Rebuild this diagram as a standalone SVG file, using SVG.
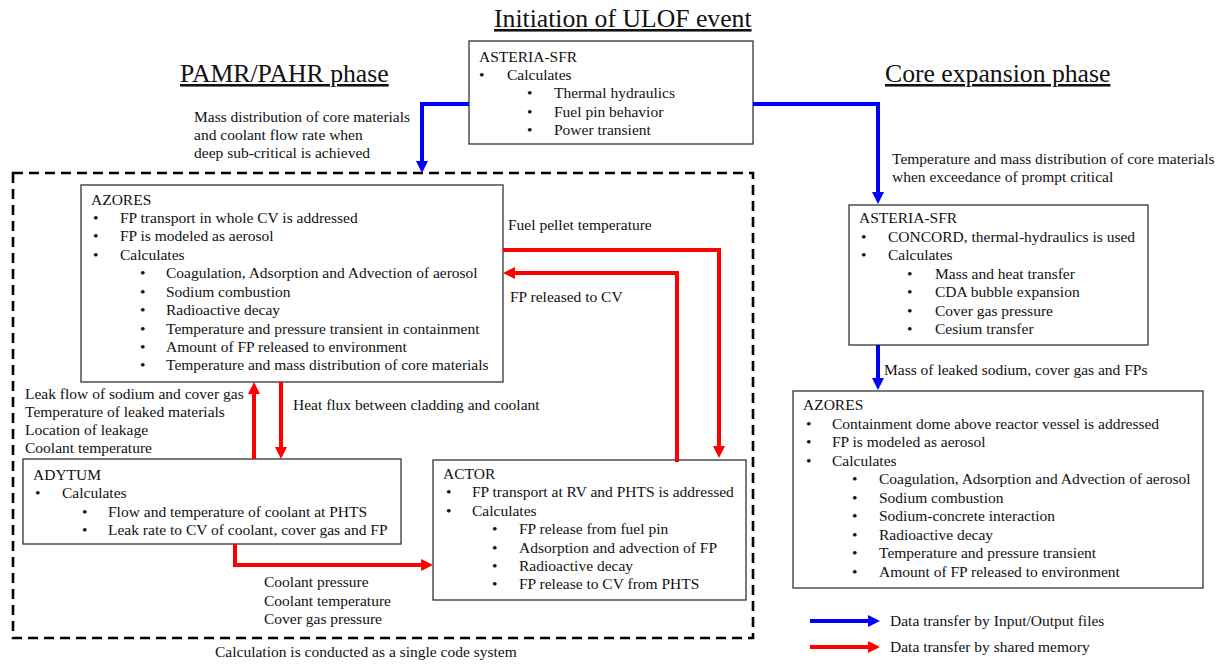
<svg xmlns="http://www.w3.org/2000/svg" width="1223" height="664" viewBox="0 0 1223 664">
<style>
text{font-family:"Liberation Serif","Times New Roman",serif;font-size:15.5px;fill:#111}
.title{font-size:25.7px;text-decoration:underline}
.box{fill:#fff;stroke:#333;stroke-width:1.3}
.red{fill:none;stroke:#ff0000;stroke-width:4}
.blue{fill:none;stroke:#0000ff;stroke-width:4}
</style>
<defs>
<marker id="ar" viewBox="0 0 10 10" refX="3.3" refY="5" markerWidth="3" markerHeight="3" orient="auto"><path d="M0,0L10,5L0,10z" fill="#ff0000"/></marker>
<marker id="ab" viewBox="0 0 10 10" refX="3.3" refY="5" markerWidth="3" markerHeight="3" orient="auto"><path d="M0,0L10,5L0,10z" fill="#0000ff"/></marker>
</defs>
<rect width="1223" height="664" fill="#fff"/>
<text class="title" x="494" y="27">Initiation of ULOF event</text>
<text class="title" x="180" y="82">PAMR/PAHR phase</text>
<text class="title" x="885" y="82">Core expansion phase</text>
<g id="container">
<rect x="13" y="173" width="740" height="465" fill="none" stroke="#000" stroke-width="2.6" stroke-dasharray="10 6"/>
<text x="215" y="657">Calculation is conducted as a single code system</text>
</g>
<g id="asteria-top">
<rect class="box" x="469" y="41" width="284" height="103"/>
<text x="479" y="62">ASTERIA-SFR</text>
<text x="479" y="80">•</text><text x="507" y="80">Calculates</text>
<text x="527" y="98">•</text><text x="554" y="98">Thermal hydraulics</text>
<text x="527" y="117">•</text><text x="554" y="117">Fuel pin behavior</text>
<text x="527" y="135">•</text><text x="554" y="135">Power transient</text>
</g>
<g id="azores-left">
<rect class="box" x="81" y="185" width="422" height="197"/>
<text x="91" y="205">AZORES</text>
<text x="93" y="223">•</text><text x="120" y="223">FP transport in whole CV is addressed</text>
<text x="93" y="241">•</text><text x="120" y="241">FP is modeled as aerosol</text>
<text x="93" y="260">•</text><text x="120" y="260">Calculates</text>
<text x="140" y="278">•</text><text x="166" y="278">Coagulation, Adsorption and Advection of aerosol</text>
<text x="140" y="297">•</text><text x="166" y="297">Sodium combustion</text>
<text x="140" y="315">•</text><text x="166" y="315">Radioactive decay</text>
<text x="140" y="334">•</text><text x="166" y="334">Temperature and pressure transient in containment</text>
<text x="140" y="352">•</text><text x="166" y="352">Amount of FP released to environment</text>
<text x="140" y="370">•</text><text x="166" y="370">Temperature and mass distribution of core materials</text>
</g>
<g id="adytum">
<rect class="box" x="23" y="459" width="378" height="85"/>
<text x="33" y="480">ADYTUM</text>
<text x="35" y="498">•</text><text x="62" y="498">Calculates</text>
<text x="82" y="517">•</text><text x="108" y="517">Flow and temperature of coolant at PHTS</text>
<text x="82" y="535">•</text><text x="108" y="535">Leak rate to CV of coolant, cover gas and FP</text>
</g>
<g id="actor">
<rect class="box" x="433" y="460" width="313" height="140"/>
<text x="443" y="479">ACTOR</text>
<text x="446" y="497">•</text><text x="472" y="497">FP transport at RV and PHTS is addressed</text>
<text x="446" y="516">•</text><text x="472" y="516">Calculates</text>
<text x="492" y="534">•</text><text x="519" y="534">FP release from fuel pin</text>
<text x="492" y="553">•</text><text x="519" y="553">Adsorption and advection of FP</text>
<text x="492" y="571">•</text><text x="519" y="571">Radioactive decay</text>
<text x="492" y="589">•</text><text x="519" y="589">FP release to CV from PHTS</text>
</g>
<g id="asteria-right">
<rect class="box" x="849" y="205" width="299" height="140"/>
<text x="859" y="223">ASTERIA-SFR</text>
<text x="861" y="242">•</text><text x="888" y="242">CONCORD, thermal-hydraulics is used</text>
<text x="861" y="260">•</text><text x="888" y="260">Calculates</text>
<text x="907" y="279">•</text><text x="935" y="279">Mass and heat transfer</text>
<text x="907" y="297">•</text><text x="935" y="297">CDA bubble expansion</text>
<text x="907" y="316">•</text><text x="935" y="316">Cover gas pressure</text>
<text x="907" y="334">•</text><text x="935" y="334">Cesium transfer</text>
</g>
<g id="azores-right">
<rect class="box" x="793" y="391" width="410" height="197"/>
<text x="803" y="410">AZORES</text>
<text x="806" y="429">•</text><text x="832" y="429">Containment dome above reactor vessel is addressed</text>
<text x="806" y="447">•</text><text x="832" y="447">FP is modeled as aerosol</text>
<text x="806" y="466">•</text><text x="832" y="466">Calculates</text>
<text x="852" y="484">•</text><text x="879" y="484">Coagulation, Adsorption and Advection of aerosol</text>
<text x="852" y="503">•</text><text x="879" y="503">Sodium combustion</text>
<text x="852" y="521">•</text><text x="879" y="521">Sodium-concrete interaction</text>
<text x="852" y="540">•</text><text x="879" y="540">Radioactive decay</text>
<text x="852" y="558">•</text><text x="879" y="558">Temperature and pressure transient</text>
<text x="852" y="577">•</text><text x="879" y="577">Amount of FP released to environment</text>
</g>
<g id="connectors">
<path class="blue" d="M469,104H422V165" marker-end="url(#ab)"/>
<path class="blue" d="M753,104H878V196" marker-end="url(#ab)"/>
<path class="blue" d="M878,345V382" marker-end="url(#ab)"/>
<path class="red" d="M503,250H719V450" marker-end="url(#ar)"/>
<path class="red" d="M677,462V273H511" marker-end="url(#ar)"/>
<path class="red" d="M254,459V390" marker-end="url(#ar)"/>
<path class="red" d="M281,382V451" marker-end="url(#ar)"/>
<path class="red" d="M235,544V565H425" marker-end="url(#ar)"/>
<text x="194" y="122">Mass distribution of core materials</text>
<text x="194" y="140">and coolant flow rate when</text>
<text x="194" y="158">deep sub-critical is achieved</text>
<text x="892" y="164">Temperature and mass distribution of core materials</text>
<text x="892" y="182">when exceedance of prompt critical</text>
<text x="884" y="375">Mass of leaked sodium, cover gas and FPs</text>
<text x="508" y="230">Fuel pellet temperature</text>
<text x="510" y="302">FP released to CV</text>
<text x="25" y="399">Leak flow of sodium and cover gas</text>
<text x="25" y="417">Temperature of leaked materials</text>
<text x="25" y="435">Location of leakage</text>
<text x="25" y="453">Coolant temperature</text>
<text x="293" y="410">Heat flux between cladding and coolant</text>
<text x="264" y="587">Coolant pressure</text>
<text x="264" y="606">Coolant temperature</text>
<text x="264" y="624">Cover gas pressure</text>
</g>
<g id="legend">
<path class="blue" d="M810,621H872" marker-end="url(#ab)"/>
<path class="red" d="M810,647H872" marker-end="url(#ar)"/>
<text x="890" y="626">Data transfer by Input/Output files</text>
<text x="890" y="652">Data transfer by shared memory</text>
</g>
</svg>
